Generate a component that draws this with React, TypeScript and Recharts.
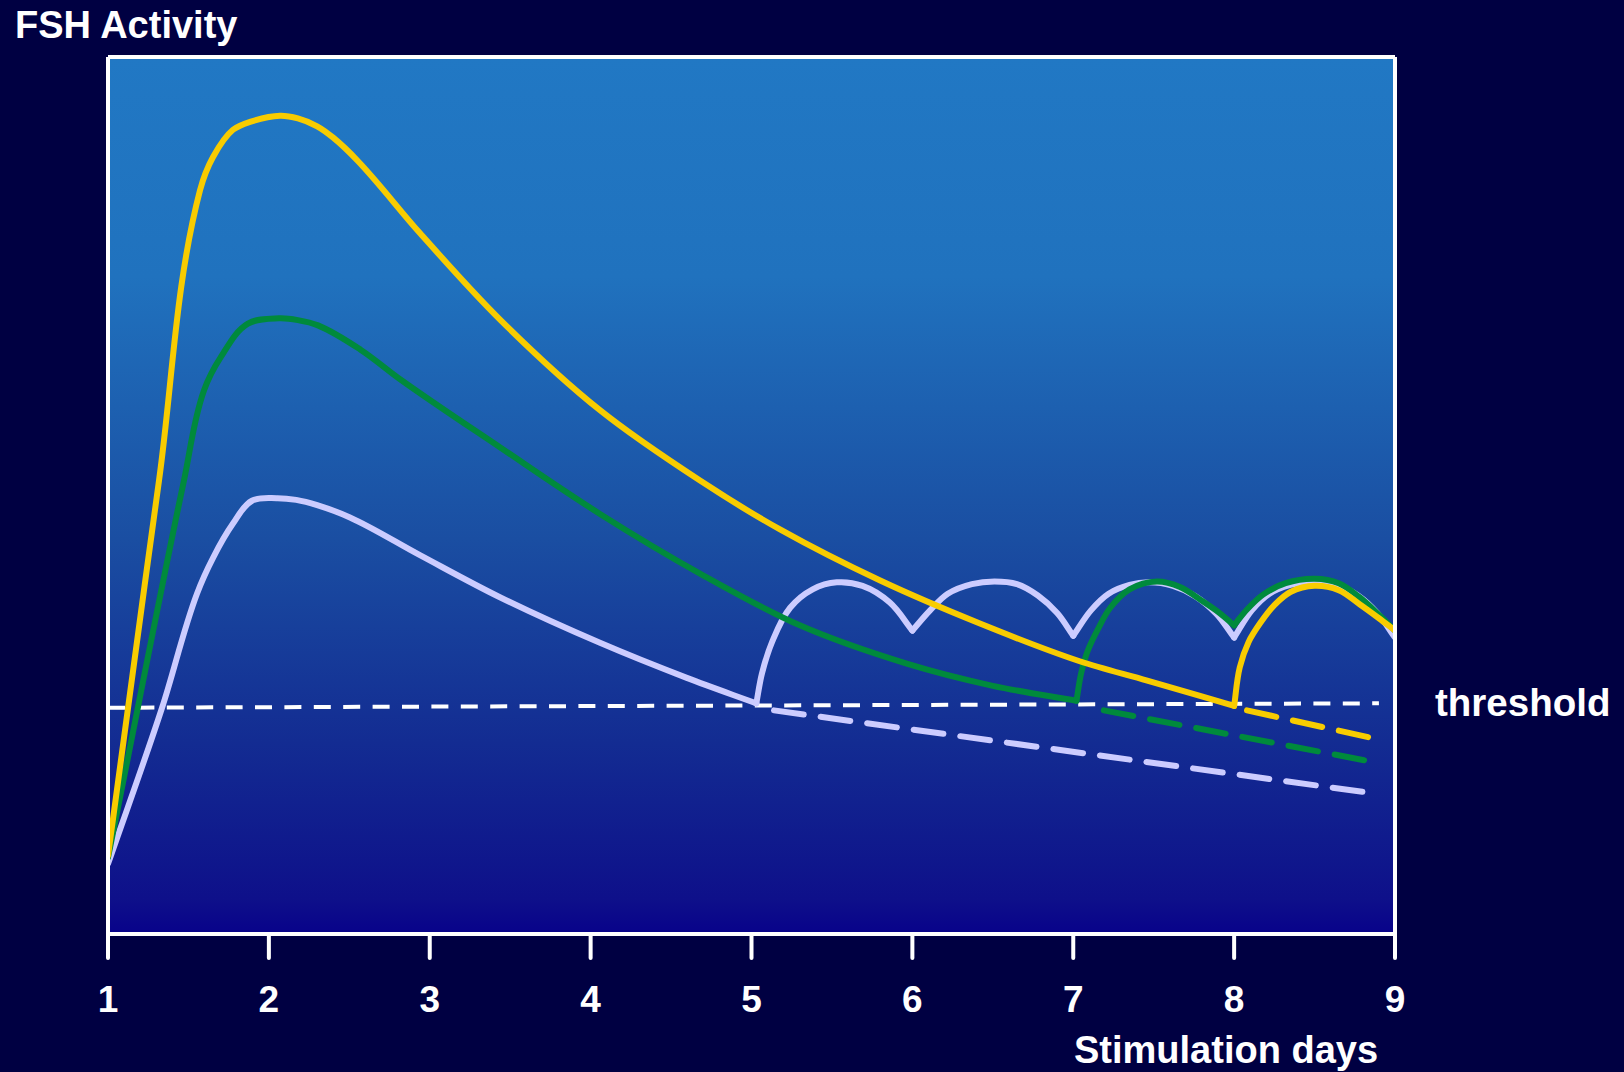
import { LineChart, Line, XAxis, YAxis, CartesianGrid, ReferenceLine } from "recharts";

const FONT = '"Liberation Sans", Arial, sans-serif';

const DAYS = [1, 2, 3, 4, 5, 6, 7, 8, 9];

// points are [stimulation day, FSH activity]
const LOW_FIRST: [number, number][] = [
  [1.0, 8.0], [1.336, 25.8], [1.553, 38.8], [1.653, 42.9], [1.777, 46.8], [1.895, 49.4],
  [2.05, 49.7], [2.17, 49.5], [2.3, 48.9], [2.504, 47.5], [2.939, 43.2], [3.436, 38.4],
  [4.058, 33.2], [4.598, 29.2], [5.03, 26.3],
];
const LOW_DOSE_5: [number, number][] = [
  [5.03, 26.3], [5.065, 29.7], [5.13, 33.4], [5.24, 37.2], [5.38, 39.3], [5.53, 40.1],
  [5.69, 39.7], [5.86, 37.8], [6.0, 34.6],
];
const LOW_DOSE_6: [number, number][] = [
  [6.0, 34.6], [6.11, 36.9], [6.22, 38.8], [6.37, 39.9], [6.51, 40.2], [6.65, 39.9],
  [6.78, 38.6], [6.9, 36.6], [7.0, 34.0],
];
const LOW_DOSE_7: [number, number][] = [
  [7.0, 34.0], [7.11, 36.9], [7.22, 38.8], [7.35, 39.8], [7.47, 40.1], [7.62, 39.7],
  [7.76, 38.5], [7.89, 36.5], [8.0, 33.8],
];
const LOW_DOSE_8: [number, number][] = [
  [8.0, 33.8], [8.11, 36.9], [8.22, 38.8], [8.35, 39.8], [8.5, 40.2], [8.64, 39.8],
  [8.77, 38.6], [8.89, 36.6], [9.0, 33.8],
];
const LOW_TAIL: [number, number][] = [[5.14, 25.5], [8.88, 16.0]];

const MID_FIRST: [number, number][] = [
  [1.0, 8.7], [1.472, 51.7], [1.597, 62.0], [1.702, 65.8], [1.87, 69.6], [2.063, 70.2],
  [2.18, 70.0], [2.305, 69.4], [2.572, 66.6], [2.82, 63.2], [3.436, 55.5], [4.058, 47.9],
  [4.68, 41.1], [5.3, 35.2], [5.97, 30.8], [6.5, 28.3], [7.02, 26.6],
];
const MID_DOSE_7: [number, number][] = [
  [7.02, 26.6], [7.05, 29.8], [7.09, 32.3], [7.16, 35.0], [7.23, 37.2], [7.35, 39.3],
  [7.52, 40.2], [7.66, 39.6], [7.8, 38.0], [7.91, 36.6], [8.0, 35.2],
];
const MID_DOSE_8: [number, number][] = [
  [8.0, 35.2], [8.08, 37.0], [8.18, 38.7], [8.32, 40.0], [8.5, 40.5], [8.65, 40.0],
  [8.78, 38.4], [8.9, 36.4], [9.0, 34.6],
];
const MID_TAIL: [number, number][] = [[7.19, 25.5], [8.87, 19.6]];

const HIGH_FIRST: [number, number][] = [
  [1.0, 8.9], [1.317, 51.7], [1.572, 84.8], [1.653, 88.6], [1.777, 91.7], [1.883, 92.6],
  [2.069, 93.3], [2.18, 93.0], [2.3, 92.1], [2.4, 90.8], [2.55, 88.2], [2.94, 79.9],
  [3.44, 70.0], [4.06, 59.7], [4.68, 51.7], [5.18, 46.1], [5.8, 40.3], [6.42, 35.4],
  [7.04, 31.1], [7.46, 28.9], [8.0, 26.0],
];
const HIGH_DOSE_8: [number, number][] = [
  [8.0, 26.0], [8.035, 30.4], [8.09, 33.3], [8.16, 35.4], [8.25, 37.5], [8.35, 39.0],
  [8.5, 39.7], [8.65, 39.2], [8.78, 37.6], [8.9, 36.0], [9.0, 34.6],
];
const HIGH_TAIL: [number, number][] = [[8.08, 25.5], [8.87, 22.3]];

const THRESHOLD: [number, number][] = [[1.0, 25.8], [8.9, 26.3]];

const LAVENDER = "#ccccff";
const GREEN = "#008a3c";
const YELLOW = "#f8cc00";

const toPoints = (pts: [number, number][]) => pts.map(([day, fsh]) => ({ day, fsh }));

// Smooth curve through every point: tangent at each point is the average of the
// neighbouring chord directions, bezier handles are a third of the chord.
function smoothCurve(context: any) {
  let pts: [number, number][] = [];
  const unit = (a: [number, number], b: [number, number]) => {
    const dx = b[0] - a[0];
    const dy = b[1] - a[1];
    const len = Math.hypot(dx, dy) || 1;
    return [dx / len, dy / len];
  };
  const tangent = (i: number) => {
    const prev = i > 0 ? unit(pts[i - 1], pts[i]) : null;
    const next = i < pts.length - 1 ? unit(pts[i], pts[i + 1]) : null;
    const tx = (prev ? prev[0] : 0) + (next ? next[0] : 0);
    const ty = (prev ? prev[1] : 0) + (next ? next[1] : 0);
    const len = Math.hypot(tx, ty) || 1;
    return [tx / len, ty / len];
  };
  return {
    areaStart() {},
    areaEnd() {},
    lineStart() {
      pts = [];
    },
    point(x: number, y: number) {
      pts.push([+x, +y]);
    },
    lineEnd() {
      if (!pts.length) return;
      context.moveTo(pts[0][0], pts[0][1]);
      for (let i = 0; i < pts.length - 1; i++) {
        const a = pts[i];
        const b = pts[i + 1];
        const h = Math.hypot(b[0] - a[0], b[1] - a[1]) / 3;
        const ta = tangent(i);
        const tb = tangent(i + 1);
        context.bezierCurveTo(a[0] + ta[0] * h, a[1] + ta[1] * h, b[0] - tb[0] * h, b[1] - tb[1] * h, b[0], b[1]);
      }
    },
  };
}

const SEGMENTS = [
  { key: "threshold", pts: THRESHOLD, color: "#ffffff", width: 4, dash: "17 12.4", cap: "butt" },
  { key: "lowTail", pts: LOW_TAIL, color: LAVENDER, width: 6, dash: "30 17" },
  { key: "midTail", pts: MID_TAIL, color: GREEN, width: 6, dash: "30 17" },
  { key: "highTail", pts: HIGH_TAIL, color: YELLOW, width: 6, dash: "30 17" },
  { key: "low1", pts: LOW_FIRST, color: LAVENDER, width: 6 },
  { key: "low5", pts: LOW_DOSE_5, color: LAVENDER, width: 6 },
  { key: "low6", pts: LOW_DOSE_6, color: LAVENDER, width: 6 },
  { key: "low7", pts: LOW_DOSE_7, color: LAVENDER, width: 6 },
  { key: "low8", pts: LOW_DOSE_8, color: LAVENDER, width: 6 },
  { key: "mid1", pts: MID_FIRST, color: GREEN, width: 6 },
  { key: "mid7", pts: MID_DOSE_7, color: GREEN, width: 6 },
  { key: "mid8", pts: MID_DOSE_8, color: GREEN, width: 6 },
  { key: "high1", pts: HIGH_FIRST, color: YELLOW, width: 6 },
  { key: "high8", pts: HIGH_DOSE_8, color: YELLOW, width: 6 },
];

export default function App() {
  return (
    <div style={{ position: "absolute", left: 0, top: 0, width: 1624, height: 1072, background: "#000042", overflow: "hidden" }}>
      <LineChart width={1624} height={1072} margin={{ top: 57, right: 229, bottom: 108, left: 108 }}>
        <defs>
          <linearGradient id="plotBg" x1="0" y1="0" x2="0" y2="1">
            <stop offset="0%" stopColor="#2178c4" />
            <stop offset="25%" stopColor="#2072be" />
            <stop offset="55%" stopColor="#1a4ea2" />
            <stop offset="78%" stopColor="#132c92" />
            <stop offset="96%" stopColor="#0e108a" />
            <stop offset="100%" stopColor="#08028a" />
          </linearGradient>
        </defs>
        <CartesianGrid fill="url(#plotBg)" horizontal={false} vertical={false} stroke="none" />
        <XAxis
          type="number"
          dataKey="day"
          domain={[1, 9]}
          ticks={DAYS}
          interval={0}
          allowDataOverflow
          height={30}
          axisLine={{ stroke: "#ffffff", strokeWidth: 4 }}
          tickLine={{ stroke: "#ffffff", strokeWidth: 4, strokeLinecap: "round" }}
          tickSize={24}
          tickMargin={28}
          tick={{ fill: "#ffffff", fontSize: 37, fontWeight: 700, fontFamily: FONT }}
        />
        <YAxis type="number" domain={[0, 100]} hide allowDataOverflow />
        {SEGMENTS.map((s) => (
          <Line
            key={s.key}
            data={toPoints(s.pts)}
            dataKey="fsh"
            type={s.pts.length > 2 ? (smoothCurve as any) : "linear"}
            stroke={s.color}
            strokeWidth={s.width}
            strokeDasharray={s.dash}
            strokeLinecap={(s.cap ?? "round") as any}
            strokeLinejoin="round"
            dot={false}
            activeDot={false}
            isAnimationActive={false}
          />
        ))}
        <ReferenceLine x={1} stroke="#ffffff" strokeWidth={4} />
        <ReferenceLine x={9} stroke="#ffffff" strokeWidth={4} />
        <ReferenceLine y={100} stroke="#ffffff" strokeWidth={4} />
      </LineChart>
      <svg width={1624} height={1072} style={{ position: "absolute", left: 0, top: 0, pointerEvents: "none" }}>
        <g fill="#ffffff" fontFamily={FONT} fontWeight={700}>
          <text x={15} y={38} fontSize={38}>FSH Activity</text>
          <text x={1435} y={716} fontSize={38.5}>threshold</text>
          <text x={1074} y={1063} fontSize={38}>Stimulation days</text>
        </g>
      </svg>
    </div>
  );
}
